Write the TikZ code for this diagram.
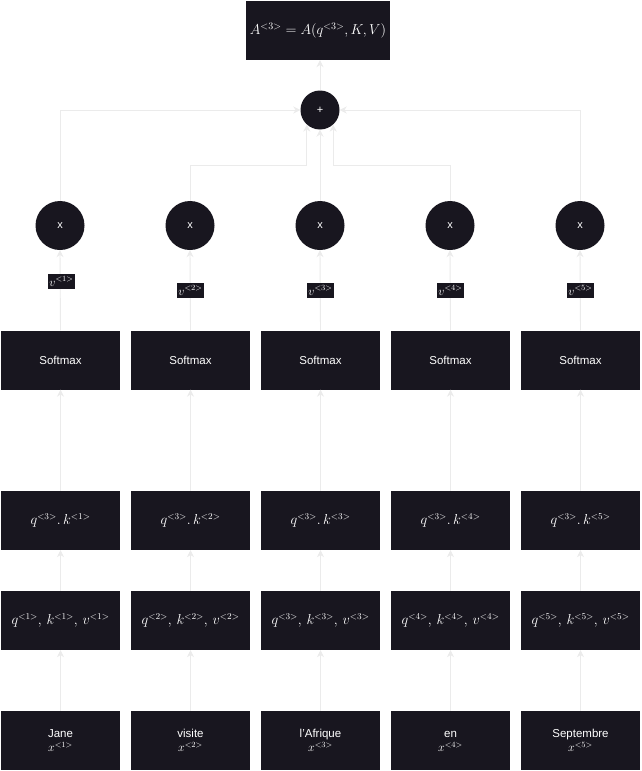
\documentclass[tikz,border=0pt]{standalone}
\usepackage{fontspec}
\setmainfont{Liberation Sans}
\usetikzlibrary{arrows.meta}
\definecolor{boxbg}{HTML}{18161F}
\definecolor{linec}{HTML}{EBEBEB}
\begin{document}
\begin{tikzpicture}[x=1pt,y=-1pt,
  box/.style={fill=boxbg,text=white,minimum width=119,minimum height=59,inner sep=0,draw=none,align=center,font=\fontsize{11.5}{12}\selectfont},
  mbox/.style={box,font=\fontsize{13.5}{14}\selectfont},
  circ/.style={circle,fill=boxbg,text=white,minimum size=49,inner sep=0,font=\fontsize{11}{12}\selectfont},
  vlab/.style={fill=boxbg,text=white,inner sep=0,minimum width=27,minimum height=15,font=\fontsize{12}{12}\selectfont},
  arr/.style={draw=linec,line width=0.9,-{Stealth[length=7,width=7]}}]
\useasboundingbox (0,0) rectangle (641,771);
\fill[white] (0,0) rectangle (641,771);
% top formula
\node[box,minimum width=144,font=\fontsize{14}{15}\selectfont] (top) at (318,30.5) {$A^{<3>}=A\big(q^{<3>},K,V\big)$};
\node[circ,minimum size=39] (p) at (320,110) {+};
\foreach \i/\x in {1/60,2/190,3/320,4/450,5/580}{
  \node[circ] (c\i) at (\x,225.5) {x};
  \node[box] (s\i) at (\x+0.5,360) {Softmax};
  \node[mbox] (d\i) at (\x+0.5,520.5) {$q^{<3>}.\,k^{<\i>}$};
  \node[mbox] (q\i) at (\x+0.5,620.5) {$q^{<\i>},\,k^{<\i>},\,v^{<\i>}$};
}
\node[box] (w1) at (60.5,740.5) {\strut Jane\\$x^{<1>}$};
\node[box] (w2) at (190.5,740.5) {\strut visite\\$x^{<2>}$};
\node[box] (w3) at (320.5,740.5) {\strut l'Afrique\\$x^{<3>}$};
\node[box] (w4) at (450.5,740.5) {\strut en\\$x^{<4>}$};
\node[box] (w5) at (580.5,740.5) {\strut Septembre\\$x^{<5>}$};
\foreach \i in {1,...,5}{
  \draw[arr] (w\i.north) -- (q\i.south);
  \draw[arr] (q\i.north) -- (d\i.south);
  \draw[arr] (d\i.north) -- (s\i.south);
  \draw[arr] (s\i.north) -- (c\i.south);
}
% v labels
\node[vlab] (v1) at (61.5,281.5) {$v^{<1>}$};
\node[vlab] (v2) at (190.5,290.5) {$v^{<2>}$};
\node[vlab] (v3) at (320.5,290.5) {$v^{<3>}$};
\node[vlab] (v4) at (450.5,290.5) {$v^{<4>}$};
\node[vlab] (v5) at (580.5,290.5) {$v^{<5>}$};
% to plus
\draw[arr] (c1.north) |- (p.west);
\draw[arr] (c5.north) |- (p.east);
\draw[arr] (c3.north) -- (p.south);
\draw[arr] (c2.north) -- (c2.north |- 0,165) -| (p.228);
\draw[arr] (c4.north) -- (c4.north |- 0,165) -| (p.312);
\draw[arr] (p.north) -- (top.south -| p.north);
\end{tikzpicture}
\end{document}
